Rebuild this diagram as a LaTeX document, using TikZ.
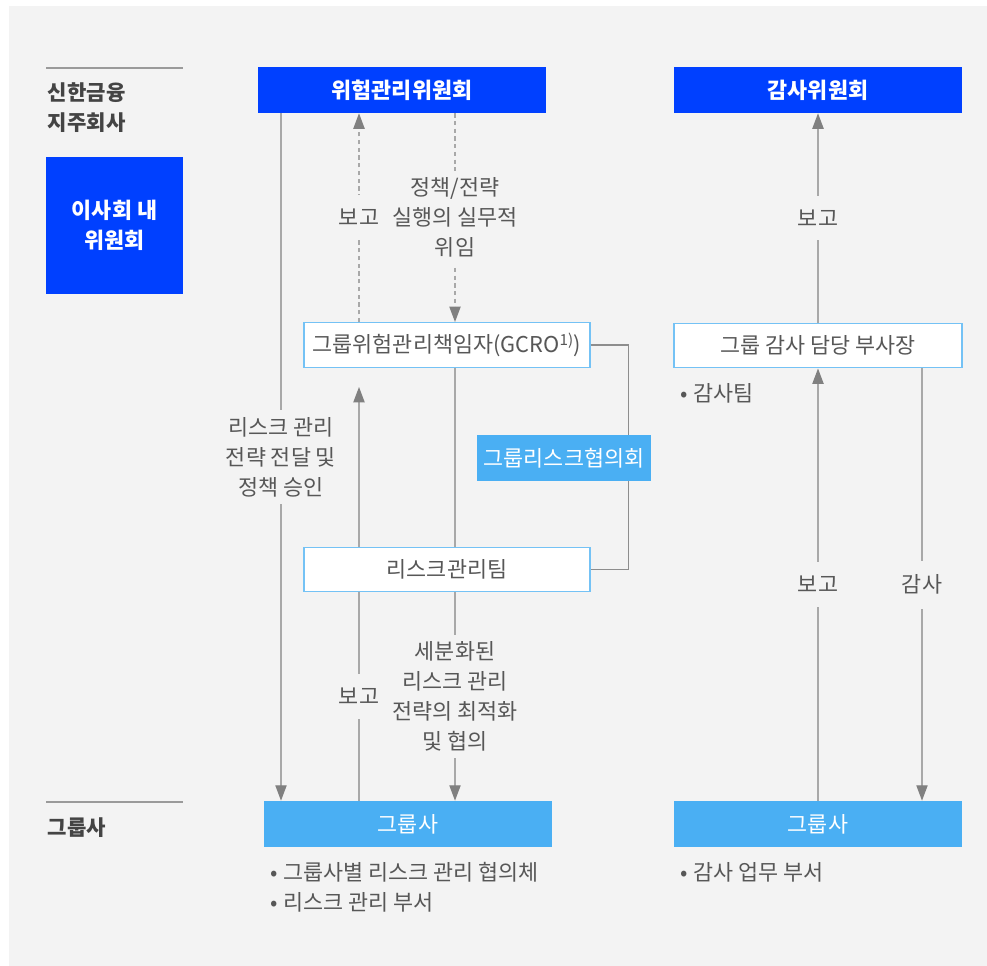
\documentclass[tikz,border=0pt]{standalone}
\usepackage{fontspec}
\setmainfont{Noto Sans CJK KR}
\usetikzlibrary{arrows.meta}
\definecolor{bgGray}{HTML}{F3F3F3}
\definecolor{shBlue}{HTML}{0040FF}
\definecolor{skyBlue}{HTML}{4AAFF3}
\definecolor{edgeBlue}{HTML}{74C2F5}
\definecolor{lineGray}{HTML}{A8A8A8}
\definecolor{ruleGray}{HTML}{9A9A9A}
\definecolor{tipGray}{HTML}{808080}
\definecolor{txtGray}{HTML}{575757}
\definecolor{headGray}{HTML}{444444}

\begin{document}
\begin{tikzpicture}[x=0.025cm, y=-0.025cm,
  every node/.style={font=\fontsize{15.5}{21.3}\selectfont, text=txtGray},
  darkbox/.style={fill=shBlue, text=white, font=\fontsize{15.5}{21.3}\selectfont\bfseries,
    minimum width=7.2cm, minimum height=1.15cm, inner sep=0pt},
  lightbox/.style={fill=skyBlue, text=white, minimum width=7.2cm, minimum height=1.15cm, inner sep=0pt},
  whitebox/.style={fill=white, draw=edgeBlue, line width=0.8pt, minimum width=7.15cm,
    minimum height=1.12cm, inner sep=0pt},
  lbl/.style={fill=bgGray, align=center, inner xsep=2pt, inner ysep=5pt},
  replbl/.style={lbl, inner ysep=10pt},
  flow/.style={draw=lineGray, line width=1pt, -{Triangle[length=11pt,width=8pt,color=tipGray]}},
  dflow/.style={flow, dash pattern=on 3pt off 2.5pt},
  plain/.style={draw=lineGray, line width=1pt},
  heading/.style={anchor=west, align=left, text=headGray, font=\fontsize{15}{21.3}\selectfont\bfseries},
  bullets/.style={anchor=west, align=left},
]
  \useasboundingbox (0,0) rectangle (987,966);
  \fill[white] (0,0) rectangle (987,966);
  \fill[bgGray] (9,6) rectangle (987,966);

  % left side headings
  \draw[ruleGray, line width=1.1pt] (46,68) -- (183,68);
  \node[heading] (hold) at (43,107.5) {신한금융\\지주회사};
  \node[fill=shBlue, text=white, font=\fontsize{15.5}{21.3}\selectfont\bfseries, align=center,
    minimum width=3.425cm, minimum height=3.425cm] (board) at (114.5,225.5) {이사회 내\\위원회};
  \draw[ruleGray, line width=1.1pt] (46,802) -- (183,802);
  \node[heading] (grp) at (43,828) {그룹사};

  % boxes
  \node[darkbox] (riskcom) at (402,90) {위험관리위원회};
  \node[darkbox] (auditcom) at (818,90) {감사위원회};
  \node[whitebox] (gcro) at (447,345) {그룹위험관리책임자(GCRO\textsuperscript{1)})};
  \node[whitebox] (riskteam) at (447,569.5) {리스크관리팀};
  \node[whitebox, minimum width=7.2cm] (auditvp) at (818,345.5) {그룹 감사 담당 부사장};
  \node[lightbox] (grpL) at (408,824) {그룹사};
  \node[lightbox] (grpR) at (818,824) {그룹사};

  % columns
  \coordinate (colA) at (281,0);
  \coordinate (colB) at (359,0);
  \coordinate (colC) at (455,0);
  \coordinate (colD) at (818,0);
  \coordinate (colE) at (922,0);

  % risk side
  \draw[flow] (riskcom.south -| colA) -- node[lbl]{리스크 관리\\전략 전달 및\\정책 승인} (grpL.north -| colA);
  \draw[dflow] (gcro.north -| colB) -- node[replbl]{보고} (riskcom.south -| colB);
  \draw[dflow] (riskcom.south -| colC) -- node[lbl]{정책/전략\\실행의 실무적\\위임} (gcro.north -| colC);
  \draw[flow, shorten >=13.5pt] (riskteam.north -| colB) -- (gcro.south -| colB);
  \draw[plain] (gcro.south -| colC) -- (riskteam.north -| colC);
  \draw[plain] (grpL.north -| colB) -- node[replbl]{보고} (riskteam.south -| colB);
  \draw[flow] (riskteam.south -| colC) -- node[lbl]{세분화된\\리스크 관리\\전략의 최적화\\및 협의} (grpL.north -| colC);
  \draw[plain, draw=tipGray!90] (gcro.east) -- ++(38,0) |- (riskteam.east);
  \node[fill=skyBlue, text=white, minimum width=4.35cm, minimum height=1.15cm, inner sep=0pt]
    (council) at (564,458) {그룹리스크협의회};

  % audit side
  \draw[flow] (auditvp.north -| colD) -- node[replbl]{보고} (auditcom.south -| colD);
  \draw[flow] (grpR.north -| colD) -- node[replbl]{보고} (auditvp.south -| colD);
  \draw[flow] (auditvp.south -| colE) -- node[replbl]{감사} (grpR.north -| colE);

  % bullet notes
  \node[bullets] (noteVP) at (676,393) {• 감사팀};
  \node[bullets] (noteL) at (266,887) {• 그룹사별 리스크 관리 협의체\\• 리스크 관리 부서};
  \node[bullets] (noteR) at (676,872) {• 감사 업무 부서};
\end{tikzpicture}
\end{document}
